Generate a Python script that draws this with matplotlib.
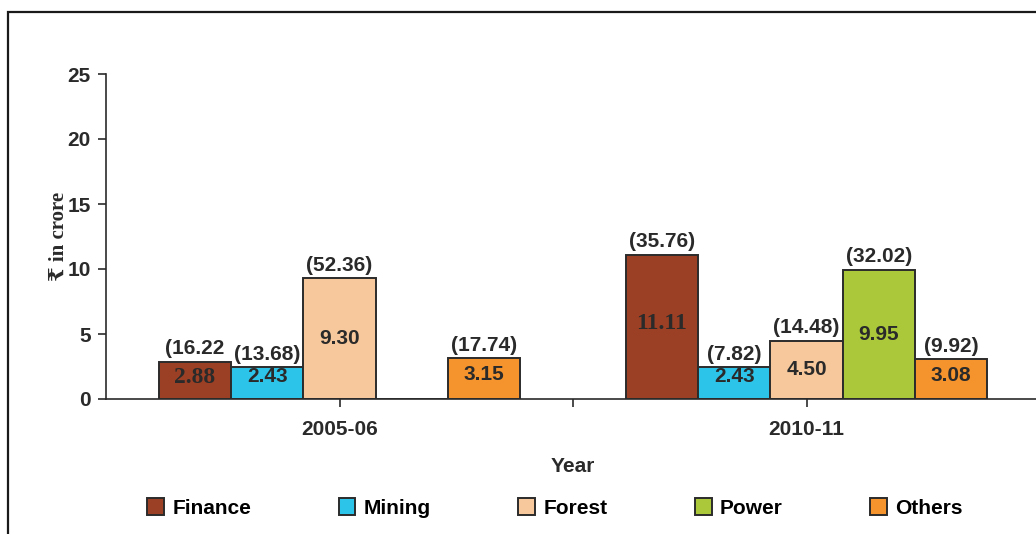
import matplotlib.pyplot as plt
from matplotlib.patches import Rectangle
import numpy as np

years = ['2005-06', '2010-11']
sectors = ['Finance', 'Mining', 'Forest', 'Power', 'Others']
finance = [2.88, 11.11]
mining = [2.43, 2.43]
forest = [9.30, 4.50]
power = [0, 9.95]
others = [3.15, 3.08]
finance_pct = ['(16.22', '(35.76)']
mining_pct = ['(13.68)', '(7.82)']
forest_pct = ['(52.36)', '(14.48)']
power_pct = ['', '(32.02)']
others_pct = ['(17.74)', '(9.92)']

values = [finance, mining, forest, power, others]
pcts = [finance_pct, mining_pct, forest_pct, power_pct, others_pct]
colors = ['#9b4024', '#2cc4e8', '#f6c89b', '#aac83a', '#f5932c']
edge = '#2b2b2b'
txt = '#2a2a2a'

fig = plt.figure(figsize=(10.36, 5.34), dpi=100)
ax = fig.add_axes([106/1036, 1 - 399/534, 934/1036, 325/534])

# outer frame
fig.patches.append(Rectangle((8/1036, -0.05), 1.1, 1 - 12/534 + 0.05,
                             transform=fig.transFigure, fill=False,
                             edgecolor='#1a1a1a', linewidth=1.6))

x = np.arange(len(years))
w = 0.155
lift = [0.25, 0.55, 0.0, 0.0, 0.3]
for i, (name, vals) in enumerate(zip(sectors, values)):
    pos = x + (i - 2) * w
    bars = ax.bar(pos, vals, width=w, color=colors[i], edgecolor=edge,
                  linewidth=1.4, label=name)
    for b, v, p in zip(bars, vals, pcts[i]):
        if v == 0:
            continue
        cx = b.get_x() + b.get_width() / 2
        if name == 'Finance':
            ax.text(cx, v / 2 + lift[i], f'{v:.2f}', ha='center', va='center',
                    fontsize=17, fontweight='bold', color=txt,
                    family=['Liberation Serif', 'DejaVu Serif'])
        else:
            ax.text(cx, v / 2 + lift[i], f'{v:.2f}', ha='center', va='center',
                    fontsize=15, fontweight='bold', color=txt,
                    family='Liberation Sans')
        ax.text(cx, v + 0.25, p, ha='center', va='bottom', fontsize=15,
                fontweight='bold', color=txt, family='Liberation Sans')

ax.set_xlim(-0.5, 1.5)
ax.set_ylim(0, 25)
ax.set_yticks([0, 5, 10, 15, 20, 25])
ax.set_xticks([0, 0.5, 1])
ax.set_xticklabels([years[0], '', years[1]])
for s in ['top', 'right']:
    ax.spines[s].set_visible(False)
for s in ['left', 'bottom']:
    ax.spines[s].set_color(edge)
    ax.spines[s].set_linewidth(1.2)
ax.tick_params(axis='both', direction='out', length=6, width=1.2,
               color=edge, labelsize=15, pad=5)
ax.tick_params(axis='x', pad=9)
for lab in ax.get_xticklabels() + ax.get_yticklabels():
    lab.set_fontweight('bold')
    lab.set_family('Liberation Sans')
    lab.set_color(txt)

ax.set_xlabel('Year', fontsize=15, fontweight='bold', family='Liberation Sans',
              color=txt, labelpad=13)
ax.set_ylabel('₹ in crore', fontsize=15, fontweight='bold',
              family=['Liberation Serif', 'DejaVu Serif', 'DejaVu Sans'],
              color=txt, labelpad=-1)

fig.legend(loc='center', bbox_to_anchor=(555/1036, 1 - 508/534), ncol=5,
           frameon=False, prop={'family': 'Liberation Sans', 'weight': 'bold',
                                'size': 15},
           handlelength=0.8, handleheight=0.9, handletextpad=0.4,
           columnspacing=4.2)

plt.savefig('out.png', dpi=100)
